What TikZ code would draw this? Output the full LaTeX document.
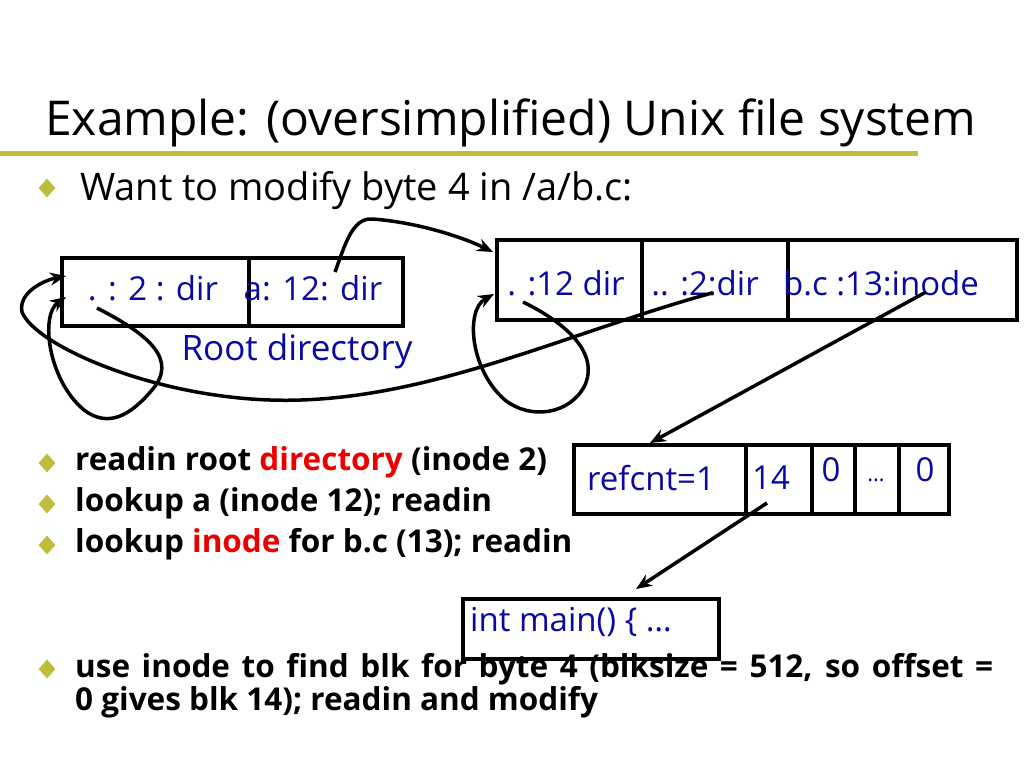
\documentclass[tikz,border=0pt]{standalone}
\usepackage{fontspec}
\setmainfont{Open Sans}
\usetikzlibrary{arrows.meta,shapes.geometric}
\definecolor{fsblue}{RGB}{10,10,160}
\definecolor{fsred}{RGB}{235,0,0}
\definecolor{fsolive}{RGB}{190,190,60}
\tikzset{
  cell/.style={draw, line width=4, inner sep=0, anchor=north west},
  val/.style={text=fsblue, inner sep=0, font=\fontsize{33}{36}\selectfont},
  txt/.style={inner sep=0, anchor=base west},
  bul/.style={diamond, fill=fsolive, inner sep=0, minimum width=17, minimum height=19},
  link/.style={line width=3.5, -{Stealth[length=16,width=13]}}
}
\newcommand{\itemfont}{\fontsize{31.5}{36}\bfseries\selectfont}
\begin{document}
\begin{tikzpicture}[x=1pt,y=-1pt]
\useasboundingbox (0,0) rectangle (1024,768);
% title
\node[txt, font=\fontsize{48}{54}\selectfont] (title) at (45,135) {Example: (oversimplified) Unix file system};
\draw[fsolive, line width=5] (0,153) -- (918,153);
\node[bul] (b0) at (47,188) {};
\node[txt, font=\fontsize{38}{44}\selectfont] (want) at (80,200) {Want to modify byte 4 in /a/b.c:};
% root directory
\node[cell, minimum width=187, minimum height=68] (r1) at (60,256) {};
\node[cell, minimum width=154, minimum height=68] (r2) at (247,256) {};
\node[val] (r1t) at (153,288) {. : 2 : dir};
\node[val] (r2t) at (313,288) {a: 12: dir};
\node[val, font=\fontsize{35}{40}\selectfont] (rootname) at (297,351) {Root directory};
% directory a
\node[cell, minimum width=145, minimum height=80] (d1) at (495,238) {};
\node[cell, minimum width=146, minimum height=80] (d2) at (640,238) {};
\node[cell, minimum width=229, minimum height=80] (d3) at (786,238) {};
\node[val] (d1t) at (566,283) {. :12 dir};
\node[val] (d2t) at (705,283) {.. :2:dir};
\node[val] (d3t) at (881,283) {b.c :13:inode};
% inode 13
\node[cell, minimum width=172, minimum height=69] (i1) at (572,443) {};
\node[cell, minimum width=66, minimum height=69] (i2) at (744,443) {};
\node[cell, minimum width=43, minimum height=69] (i3) at (810,443) {};
\node[cell, minimum width=44, minimum height=69] (i4) at (853,443) {};
\node[cell, minimum width=50, minimum height=69] (i5) at (897,443) {};
\node[val] (i1t) at (651,478) {refcnt=1};
\node[val] (i2t) at (771,478) {14};
\node[val] (i3t) at (831,470) {0};
\node[val] (i4t) at (876,480) {\fontsize{22}{22}\selectfont …};
\node[val] (i5t) at (925,470) {0};
% block 14
\node[cell, minimum width=256, minimum height=60] (blk) at (461,597) {};
\node[val, anchor=west] (blkt) at (470,622) {int main() \{ …};
% steps
\node[bul] (b1) at (47,463) {};
\node[bul] (b2) at (47,504) {};
\node[bul] (b3) at (47,545) {};
\node[bul] (b4) at (47,669) {};
\node[txt, font=\itemfont] (s1) at (75,470) {readin root \textcolor{fsred}{directory} (inode 2)};
\node[txt, font=\itemfont] (s2) at (75,511) {lookup a (inode 12); readin};
\node[txt, font=\itemfont] (s3) at (75,552) {lookup \textcolor{fsred}{inode} for b.c (13); readin};
\node[txt, font=\itemfont] (s4) at (75,677) {\makebox[918pt][s]{use inode to find blk for byte 4 (blksize = 512, so offset =}};
\node[txt, font=\itemfont] (s5) at (75,710) {0 gives blk 14); readin and modify};
% arrow ends
\coordinate (aout) at (335,272);
\coordinate (ain) at (493,252);
\coordinate (rdot) at (97,308);
\coordinate (rin1) at (66,276);
\coordinate (rin2) at (66,297);
\coordinate (ddot) at (523,302);
\coordinate (din) at (494,294);
\coordinate (dup) at (712,293);
\coordinate (bcout) at (926,292);
\coordinate (iin) at (650,443);
\coordinate (blkout) at (767,503);
\coordinate (blkin) at (636,589);
% links
\draw[link] (aout) .. controls (345,245) and (352,218) .. (372,219) .. controls (415,222) and (460,236) .. (ain);
\draw[link] (rdot) .. controls (150,335) and (178,360) .. (152,390) .. controls (130,416) and (108,428) .. (84,410) .. controls (48,380) and (40,315) .. (rin2);
\draw[link] (dup) .. controls (560,335) and (420,405) .. (270,400) .. controls (150,396) and (35,345) .. (22,312) .. controls (18,292) and (45,280) .. (rin1);
\draw[link] (ddot) .. controls (560,320) and (600,350) .. (585,385) .. controls (570,415) and (530,420) .. (505,400) .. controls (470,370) and (465,310) .. (din);
\draw[link] (bcout) -- (iin);
\draw[link] (blkout) -- (blkin);
\end{tikzpicture}
\end{document}
